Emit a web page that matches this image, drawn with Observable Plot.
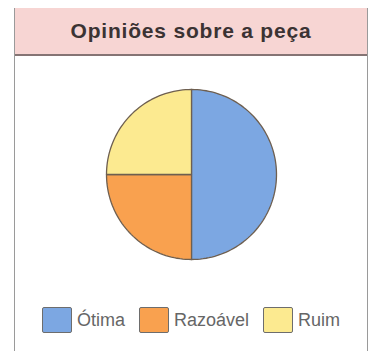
<!DOCTYPE html>
<html>
<head>
<meta charset="utf-8">
<script src="https://cdn.jsdelivr.net/npm/d3@7"></script>
<script src="https://cdn.jsdelivr.net/npm/@observablehq/plot@0.6"></script>
<style>
  html, body { margin: 0; padding: 0; background: #fff; width: 381px; height: 351px; overflow: hidden; }
  #box { position: absolute; left: 14px; top: 8px; width: 352px; height: 345px;
         border-left: 1.5px solid #9a9a9a; border-right: 1.5px solid #9a9a9a; }
  #header { height: 46px; background: #f7d5d3; border-bottom: 2px solid #857474;
            display: flex; align-items: center; justify-content: center;
            font-family: "Liberation Sans", Arial, sans-serif; font-weight: bold;
            font-size: 21px; letter-spacing: 0.8px; color: #3b3333; }
  #chart { position: absolute; left: 0; top: 49px; }
  #legend { position: absolute; left: 0; top: 299px; width: 352px; display: flex;
            justify-content: center; align-items: center;
            font-family: "Liberation Sans", Arial, sans-serif; font-size: 18px; color: #666; }
  .item { display: flex; align-items: center; margin: 0 7px; }
  .sw { width: 28px; height: 24px; border: 1.5px solid #6d6d6d; border-radius: 2px; margin-right: 5px; }
</style>
</head>
<body>
<div id="box">
  <div id="header"></div>
  <div id="chart"></div>
  <div id="legend"></div>
</div>
<script>
const title = "Opiniões sobre a peça";
const categories = ["Ótima", "Razoável", "Ruim"];
const values = [50, 25, 25];
const colors = ["#7ca7e2", "#f9a14f", "#fcea90"];

document.getElementById("header").textContent = title;

const pieData = categories.map((c, i) => ({category: c, value: values[i]}));
const arcs = d3.pie().sort(null).value(d => d.value)(pieData);

// Build slice polygons (unit circle, angle 0 at top, clockwise; y down)
function slice(a0, a1) {
  const pts = [[0, 0]];
  const steps = Math.max(2, Math.ceil((a1 - a0) / (Math.PI / 90)));
  for (let k = 0; k <= steps; k++) {
    const a = a0 + (a1 - a0) * k / steps;
    pts.push([Math.sin(a), -Math.cos(a)]);
  }
  pts.push([0, 0]);
  return pts;
}
const features = arcs.map(a => ({
  type: "Feature",
  properties: {category: a.data.category},
  geometry: {type: "Polygon", coordinates: [slice(a.startAngle, a.endAngle)]}
}));

const chart = Plot.plot({
  width: 352,
  height: 234,
  margin: 0,
  projection: {type: "identity", domain: {type: "MultiPoint", coordinates: [[-1, -1], [1, 1]]}, inset: 32},
  color: {domain: categories, range: colors},
  marks: [
    Plot.geo(features, {fill: d => d.properties.category, stroke: "#6e5f50", strokeWidth: 1.3})
  ]
});
document.getElementById("chart").appendChild(chart);

const legend = document.getElementById("legend");
categories.forEach((c, i) => {
  const item = document.createElement("div");
  item.className = "item";
  const sw = document.createElement("div");
  sw.className = "sw";
  sw.style.background = colors[i];
  const t = document.createElement("span");
  t.textContent = c;
  item.appendChild(sw);
  item.appendChild(t);
  legend.appendChild(item);
});
</script>
</body>
</html>
